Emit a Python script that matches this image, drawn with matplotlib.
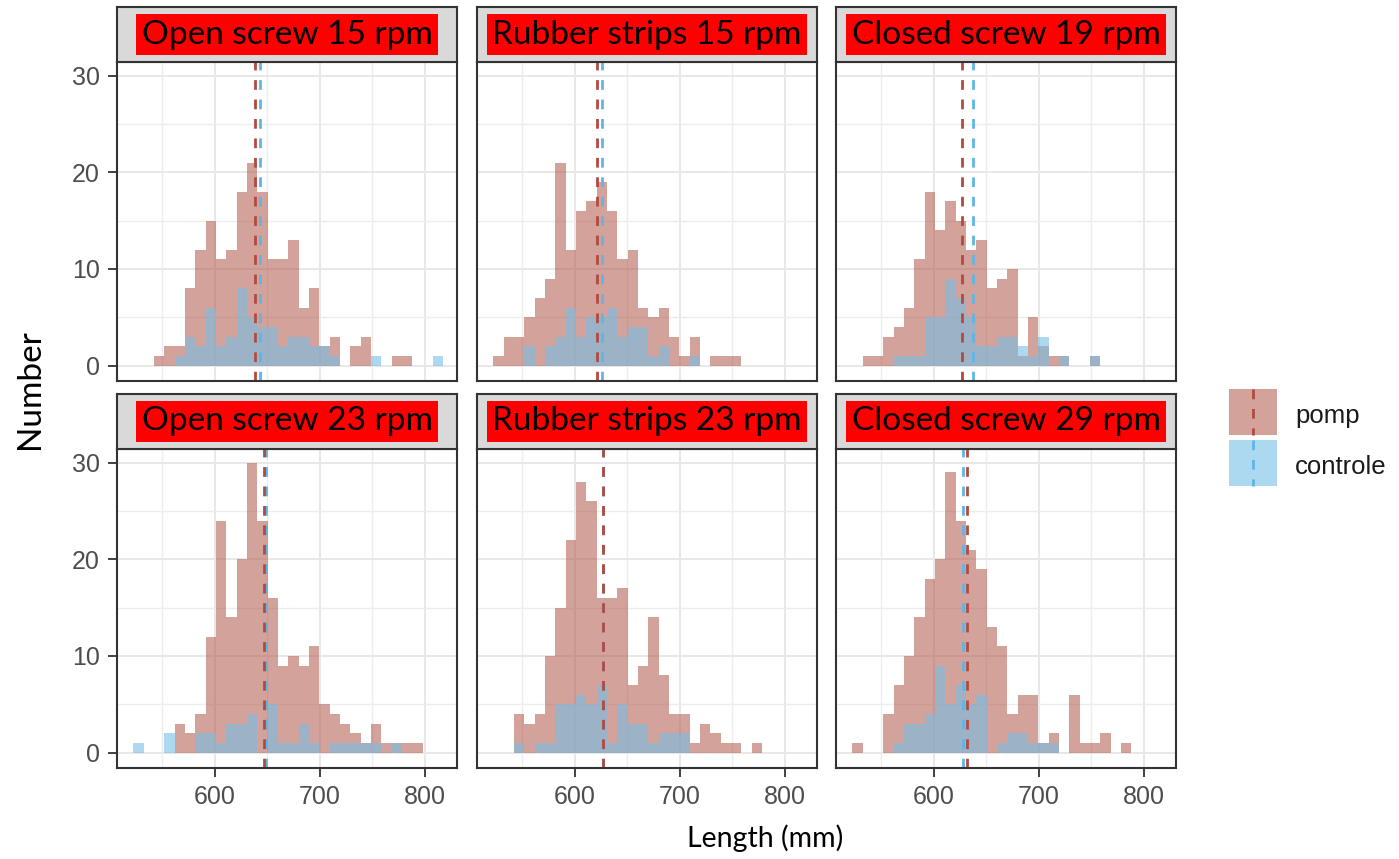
import numpy as np
import matplotlib
matplotlib.use("Agg")
import matplotlib.pyplot as plt
from matplotlib.patches import Rectangle

# Shared histogram bins (mm)
bin_start = 522.2
bin_width = 9.84
n_bins = 30

panel_titles = ["Open screw 15 rpm", "Rubber strips 15 rpm", "Closed screw 19 rpm",
                "Open screw 23 rpm", "Rubber strips 23 rpm", "Closed screw 29 rpm"]

# Counts per bin, one list per setting
pomp_open15 = [0, 0, 1, 2, 2, 8, 12, 15, 11, 12, 18, 21, 18, 11, 11, 13, 6, 8, 2, 3, 0, 2, 3, 0, 0, 1, 1, 0, 0, 0]
ctrl_open15 = [0, 0, 0, 0, 1, 3, 2, 6, 2, 3, 8, 5, 4, 4, 2, 3, 3, 2, 2, 1, 0, 0, 0, 1, 0, 0, 0, 0, 0, 1]

pomp_rubber15 = [1, 3, 3, 5, 7, 9, 21, 12, 16, 17, 19, 16, 11, 12, 6, 5, 6, 3, 1, 3, 0, 1, 1, 1, 0, 0, 0, 0, 0, 0]
ctrl_rubber15 = [0, 0, 0, 2, 0, 2, 3, 6, 3, 5, 5, 6, 3, 4, 4, 1, 2, 0, 0, 1, 0, 0, 0, 0, 0, 0, 0, 0, 0, 0]

pomp_closed19 = [0, 1, 1, 3, 4, 6, 11, 18, 14, 17, 15, 12, 13, 8, 9, 10, 1, 5, 2, 1, 1, 0, 0, 1, 0, 0, 0, 0, 0, 0]
ctrl_closed19 = [0, 0, 0, 0, 1, 1, 1, 5, 5, 9, 7, 5, 2, 2, 3, 3, 2, 1, 3, 0, 1, 0, 0, 1, 0, 0, 0, 0, 0, 0]

pomp_open23 = [0, 0, 0, 0, 3, 2, 4, 12, 24, 14, 20, 30, 24, 16, 9, 10, 9, 11, 5, 4, 3, 2, 1, 3, 1, 1, 1, 1, 0, 0]
ctrl_open23 = [1, 0, 0, 2, 0, 0, 2, 2, 1, 3, 3, 4, 0, 5, 1, 1, 3, 1, 0, 1, 1, 1, 1, 1, 0, 1, 0, 0, 0, 0]

pomp_rubber23 = [0, 0, 4, 3, 4, 10, 15, 22, 28, 26, 16, 16, 17, 7, 9, 14, 8, 4, 4, 1, 3, 2, 1, 1, 0, 1, 0, 0, 0, 0]
ctrl_rubber23 = [0, 0, 1, 0, 1, 1, 5, 5, 6, 5, 7, 1, 5, 3, 3, 1, 2, 2, 2, 0, 0, 0, 0, 0, 0, 0, 0, 0, 0, 0]

pomp_closed29 = [1, 0, 0, 4, 7, 10, 14, 18, 20, 29, 24, 21, 19, 13, 11, 4, 6, 6, 1, 2, 0, 6, 1, 1, 2, 0, 1, 0, 0, 0]
ctrl_closed29 = [0, 0, 0, 0, 1, 3, 3, 4, 9, 5, 7, 5, 6, 0, 1, 2, 2, 1, 1, 1, 0, 0, 0, 0, 0, 0, 0, 0, 0, 0]

pomp_counts = [pomp_open15, pomp_rubber15, pomp_closed19, pomp_open23, pomp_rubber23, pomp_closed29]
ctrl_counts = [ctrl_open15, ctrl_rubber15, ctrl_closed19, ctrl_open23, ctrl_rubber23, ctrl_closed29]

# Mean length per group (dashed lines)
pomp_means = [638.1, 620.6, 626.3, 646.7, 627.0, 631.3]
ctrl_means = [642.5, 625.4, 637.1, 648.3, 627.0, 627.5]

group_labels = ["pomp", "controle"]

POMP_FILL = "#B66457"
CTRL_FILL = "#76BEE6"
POMP_LINE = "#B24A3E"
CTRL_LINE = "#5FB6E6"
ALPHA = 0.6
DASH = (0, (3.5, 3.5))
MEAN_LW = 2.0

W, H = 1399, 859
fig = plt.figure(figsize=(W / 100, H / 100), dpi=100)


def px_axes(x0, y0, w, h):
    return fig.add_axes([x0 / W, 1 - (y0 + h) / H, w / W, h / H])


col_x = [117, 477, 836]
row_y = [62, 449]
pw, ph = 340, 319
strip_h = 55

edges = bin_start + bin_width * np.arange(n_bins)
tick_font = dict(family="Liberation Sans", size=18, color="#4D4D4D")

for i in range(6):
    r, c = divmod(i, 3)
    ax = px_axes(col_x[c], row_y[r], pw, ph)

    ax.bar(edges, pomp_counts[i], width=bin_width, align="edge",
           color=POMP_FILL, alpha=ALPHA, linewidth=0)
    ax.bar(edges, ctrl_counts[i], width=bin_width, align="edge",
           color=CTRL_FILL, alpha=ALPHA, linewidth=0)
    ax.axvline(ctrl_means[i], color=CTRL_LINE, lw=MEAN_LW, ls=DASH)
    ax.axvline(pomp_means[i], color=POMP_LINE, lw=MEAN_LW, ls=DASH)

    ax.set_xlim(506.7, 830.5)
    ax.set_ylim(-1.6, 31.4)
    ax.set_xticks([600, 700, 800])
    ax.set_xticks([550, 650, 750], minor=True)
    ax.set_yticks([0, 10, 20, 30])
    ax.set_yticks([5, 15, 25], minor=True)
    ax.set_axisbelow(True)
    ax.grid(which="major", color="#E8E8E8", lw=1.4)
    ax.grid(which="minor", color="#EDEDED", lw=1.0)
    for s in ax.spines.values():
        s.set_color("#333333")
        s.set_linewidth(1.5)

    ax.tick_params(which="minor", length=0)
    ax.tick_params(which="major", length=6.5, width=1.3, color="#333333", pad=6)
    ax.tick_params(axis="x", bottom=(r == 1), labelbottom=(r == 1))
    ax.tick_params(axis="y", left=(c == 0), labelleft=(c == 0))
    for lab in ax.get_xticklabels() + ax.get_yticklabels():
        lab.set(**tick_font)

    # facet strip with highlighted title
    sax = px_axes(col_x[c], row_y[r] - strip_h, pw, strip_h)
    sax.set_facecolor("#D9D9D9")
    sax.set_xticks([])
    sax.set_yticks([])
    for s in sax.spines.values():
        s.set_color("#333333")
        s.set_linewidth(1.5)
    sax.text(0.5, 0.5, panel_titles[i], transform=sax.transAxes,
             ha="center", va="center", family="Lato", fontsize=24, color="black",
             bbox=dict(boxstyle="square,pad=0.16", fc="#FF0000", ec="none"))

# axis titles
fig.text(30 / W, 1 - 389 / H, "Number", rotation=90, ha="center", va="center",
         family="Lato", fontsize=24)
fig.text(765 / W, 1 - 838 / H, "Length (mm)", ha="center", va="center",
         family="Lato", fontsize=20.5)

# legend
lax = px_axes(1229, 389, 170, 98)
lax.set_xlim(0, 170)
lax.set_ylim(98, 0)
lax.axis("off")
for k, (fill, line) in enumerate([(POMP_FILL, POMP_LINE), (CTRL_FILL, CTRL_LINE)]):
    y0 = k * 51
    lax.add_patch(Rectangle((0, y0), 48, 46, facecolor=fill, alpha=ALPHA, lw=0))
    lax.plot([24, 24], [y0, y0 + 46], color=line, lw=MEAN_LW, ls=DASH)
    lax.text(66, y0 + 27, group_labels[k], ha="left", va="center",
             family="Liberation Sans", fontsize=18.5, color="#1A1A1A")

fig.savefig("out.png", dpi=100)
